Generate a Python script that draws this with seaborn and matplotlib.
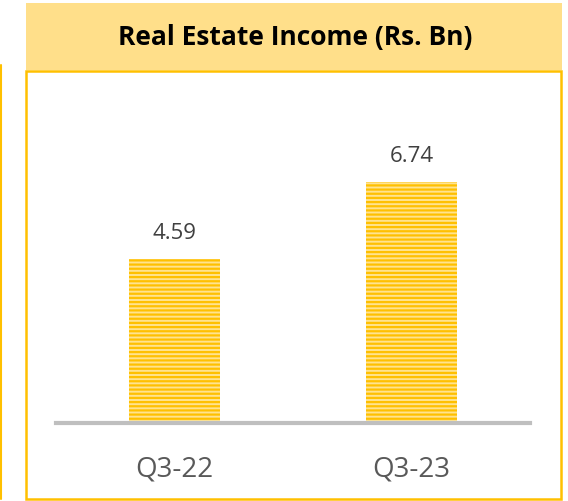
import numpy as np
import pandas as pd
import seaborn as sns
import matplotlib.pyplot as plt
from matplotlib.patches import Rectangle
from matplotlib.lines import Line2D

# Data
quarters = ["Q3-22", "Q3-23"]
income = [4.59, 6.74]

sns.set_theme(style="white")
plt.rcParams['font.family'] = ['Open Sans', 'DejaVu Sans']
plt.rcParams['hatch.linewidth'] = 1.6
plt.rcParams['hatch.color'] = '#FFC000'

W, H = 568, 502
fig = plt.figure(figsize=(W / 100, H / 100), dpi=100)

def fx(px):
    return px / W

def fy(py):
    return 1 - py / H

# Title band and panel frame
fig.patches.append(Rectangle((fx(26), fy(71)), fx(562) - fx(26), fy(4) - fy(71),
                             transform=fig.transFigure, facecolor='#FFDF8A',
                             edgecolor='none', zorder=-2))
fig.patches.append(Rectangle((fx(26), fy(500)), fx(561) - fx(26), fy(72) - fy(500),
                             transform=fig.transFigure, facecolor='white',
                             edgecolor='#FFC000', linewidth=1.8, zorder=-2))
fig.lines.append(Line2D([fx(1), fx(1)], [fy(66), fy(500)], transform=fig.transFigure,
                        color='#FFC000', linewidth=1.5))
fig.text(fx(295), fy(38), "Real Estate Income (Rs. Bn)", ha='center', va='center',
         fontsize=19, fontweight='bold', color='black')

# Axes: baseline at y=424px, 35.8 px per unit
ax = fig.add_axes([fx(56), fy(424), fx(530) - fx(56), fy(100) - fy(424)])
ax.set_zorder(3)
ax.patch.set_alpha(0)
df = pd.DataFrame({"quarter": quarters, "income": income})
sns.barplot(data=df, x="quarter", y="income", ax=ax, width=0.38,
            color='#FFE38F', saturation=1, edgecolor='#FFE38F', linewidth=0)
for p in ax.patches:
    p.set_hatch('----')
    p.set_edgecolor('#FFC000')
    p.set_linewidth(0)

ax.set_xlim(-0.5, 1.5)
ax.set_ylim(0, 324 / 35.8)
ax.set_xlabel("")
ax.set_ylabel("")
ax.set_yticks([])
for s in ['top', 'right', 'left']:
    ax.spines[s].set_visible(False)
ax.spines['bottom'].set_color('#BFBFBF')
ax.spines['bottom'].set_linewidth(3)
ax.tick_params(axis='x', length=0, pad=23, labelsize=20, labelcolor='#595959')

for i, v in enumerate(income):
    ax.annotate(f"{v:.2f}", (i, v), xytext=(0, 11), textcoords='offset points',
                ha='center', va='bottom', fontsize=16, color='#404040')

fig.savefig("out.png", dpi=100)
